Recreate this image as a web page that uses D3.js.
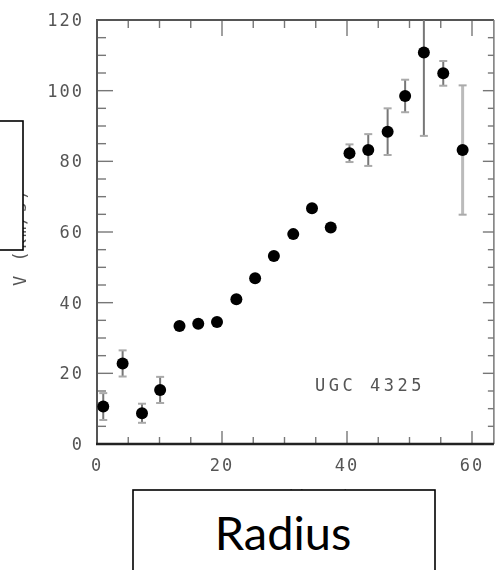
<!DOCTYPE html>
<html>
<head>
<meta charset="utf-8">
<script src="https://cdn.jsdelivr.net/npm/d3@7"></script>
<style>
  html, body { margin: 0; padding: 0; background: #fff; }
  svg { display: block; }
</style>
</head>
<body>
<svg id="chart" width="495" height="570"></svg>
<script>
// Rotation curve of UGC 4325: radius (kpc) vs. circular velocity (km/s)
const radius   = [1.0, 4.1, 7.2, 10.1, 13.2, 16.2, 19.2, 22.3, 25.3, 28.3, 31.4, 34.4, 37.4, 40.4, 43.4, 46.5, 49.3, 52.3, 55.4, 58.5];
const velocity = [10.6, 22.8, 8.7, 15.3, 33.4, 34.0, 34.5, 41.0, 46.9, 53.2, 59.4, 66.7, 61.3, 82.3, 83.2, 88.4, 98.5, 110.8, 104.9, 83.2];
const velErr   = [3.8, 3.7, 2.7, 3.7, 0.8, 0.8, 0.8, 1.0, 0.8, 0.8, 1.2, 1.2, 1.2, 2.5, 4.5, 6.6, 4.6, 23.6, 3.5, 18.3];

const xTicks = [0, 20, 40, 60];
const yTicks = [0, 20, 40, 60, 80, 100, 120];
const galaxyName = "UGC 4325";
const xTitle = "R (kpc)";
const yTitle = "V (km/s)";
const coverX = "Radius";

const svg = d3.select("#chart");

const x = d3.scaleLinear().domain([0, 60]).range([97, 472]);
const y = d3.scaleLinear().domain([0, 120]).range([444, 20]);
const xMax = 63.5;

const defs = svg.append("defs");
defs.append("filter").attr("id", "soft")
  .append("feGaussianBlur").attr("stdDeviation", 0.5);

const plot = svg.append("g").attr("filter", "url(#soft)");

const tickFont = "'DejaVu Sans Mono', monospace";

// minor/major tick values
const xMinor = d3.range(0, xMax, 5);
const yMinor = d3.range(0, 121, 5);

// frame ticks drawn inward on all four sides
const tickG = plot.append("g").attr("stroke", "#777").attr("stroke-width", 1.4);
xMinor.forEach(v => {
  const major = v % 20 === 0;
  tickG.append("line").attr("x1", x(v)).attr("x2", x(v))
    .attr("y1", y(0)).attr("y2", y(0) - (major ? 13 : 7));
  tickG.append("line").attr("x1", x(v)).attr("x2", x(v))
    .attr("y1", y(120)).attr("y2", y(120) + (major ? 16 : 8));
});
yMinor.forEach(v => {
  const major = v % 20 === 0;
  tickG.append("line").attr("y1", y(v)).attr("y2", y(v))
    .attr("x1", x(0)).attr("x2", x(0) + (major ? 16 : 9));
  tickG.append("line").attr("y1", y(v)).attr("y2", y(v))
    .attr("x1", x(xMax)).attr("x2", x(xMax) - (major ? 11 : 6));
});

// frame lines
plot.append("line").attr("x1", x(0)).attr("x2", x(xMax)).attr("y1", y(120)).attr("y2", y(120))
  .attr("stroke", "#555").attr("stroke-width", 2);
plot.append("line").attr("x1", x(0)).attr("x2", x(0)).attr("y1", y(120) - 1).attr("y2", y(0) + 1)
  .attr("stroke", "#555").attr("stroke-width", 2);
plot.append("line").attr("x1", x(xMax)).attr("x2", x(xMax)).attr("y1", y(120)).attr("y2", y(0))
  .attr("stroke", "#777").attr("stroke-width", 1.5);
plot.append("line").attr("x1", x(0) - 1).attr("x2", x(xMax)).attr("y1", y(0)).attr("y2", y(0))
  .attr("stroke", "#222").attr("stroke-width", 2.6);

// tick labels
plot.append("g").selectAll("text").data(yTicks).join("text")
  .attr("x", 84).attr("y", d => y(d))
  .attr("dy", "0.36em")
  .attr("text-anchor", "end")
  .attr("font-family", tickFont).attr("font-size", 17)
  .attr("letter-spacing", 2).attr("fill", "#555")
  .text(d => d);

plot.append("g").selectAll("text").data(xTicks).join("text")
  .attr("x", d => x(d)).attr("y", 465)
  .attr("dy", "0.36em")
  .attr("text-anchor", "middle")
  .attr("font-family", tickFont).attr("font-size", 17)
  .attr("letter-spacing", 2).attr("fill", "#555")
  .text(d => d);

// axis titles
plot.append("text")
  .attr("transform", "translate(20,286) rotate(-90)")
  .attr("dy", "0.36em")
  .attr("font-family", tickFont).attr("font-size", 17)
  .attr("letter-spacing", 2).attr("fill", "#555")
  .text(yTitle);

plot.append("text")
  .attr("x", 306).attr("y", 503)
  .attr("text-anchor", "middle")
  .attr("font-family", tickFont).attr("font-size", 17)
  .attr("letter-spacing", 4).attr("fill", "#888")
  .text(xTitle);

// galaxy label
plot.append("text")
  .attr("x", 315).attr("y", 385).attr("dy", "0.36em")
  .attr("font-family", tickFont).attr("font-size", 17)
  .attr("letter-spacing", 3.5).attr("fill", "#555")
  .text(galaxyName);

// error bars
const pts = radius.map((r, i) => ({ r, v: velocity[i], e: velErr[i] }));
const clipTop = v => Math.min(v, 120);
const errG = plot.append("g");
errG.selectAll("line.bar").data(pts).join("line").attr("class", "bar")
  .attr("x1", d => x(d.r)).attr("x2", d => x(d.r))
  .attr("y1", d => y(clipTop(d.v + d.e))).attr("y2", d => y(d.v - d.e))
  .attr("stroke", d => d.e > 15 && d.r > 55 ? "#bbb" : "#777")
  .attr("stroke-width", d => d.e > 15 && d.r > 55 ? 3 : 2);
errG.selectAll("line.capLo").data(pts.filter(d => d.e > 2)).join("line").attr("class", "capLo")
  .attr("x1", d => x(d.r) - 4).attr("x2", d => x(d.r) + 4)
  .attr("y1", d => y(d.v - d.e)).attr("y2", d => y(d.v - d.e))
  .attr("stroke", "#aaa").attr("stroke-width", 2);
errG.selectAll("line.capHi").data(pts.filter(d => d.e > 2 && d.v + d.e < 120)).join("line").attr("class", "capHi")
  .attr("x1", d => x(d.r) - 4).attr("x2", d => x(d.r) + 4)
  .attr("y1", d => y(d.v + d.e)).attr("y2", d => y(d.v + d.e))
  .attr("stroke", "#aaa").attr("stroke-width", 2);

// data points
plot.append("g").selectAll("circle").data(pts).join("circle")
  .attr("cx", d => x(d.r)).attr("cy", d => y(d.v))
  .attr("r", 6)
  .attr("fill", "#000");

// label cover boxes
svg.append("rect")
  .attr("x", -2).attr("y", 121).attr("width", 25).attr("height", 129)
  .attr("fill", "#fff").attr("stroke", "#000").attr("stroke-width", 1.6);

svg.append("rect")
  .attr("x", 133).attr("y", 490).attr("width", 302).attr("height", 100)
  .attr("fill", "#fff").attr("stroke", "#000").attr("stroke-width", 1.6);

svg.append("text")
  .attr("x", 283).attr("y", 550)
  .attr("text-anchor", "middle")
  .attr("font-family", "Lato, 'Open Sans', sans-serif")
  .attr("font-size", 47)
  .attr("fill", "#000")
  .text(coverX);
</script>
</body>
</html>
